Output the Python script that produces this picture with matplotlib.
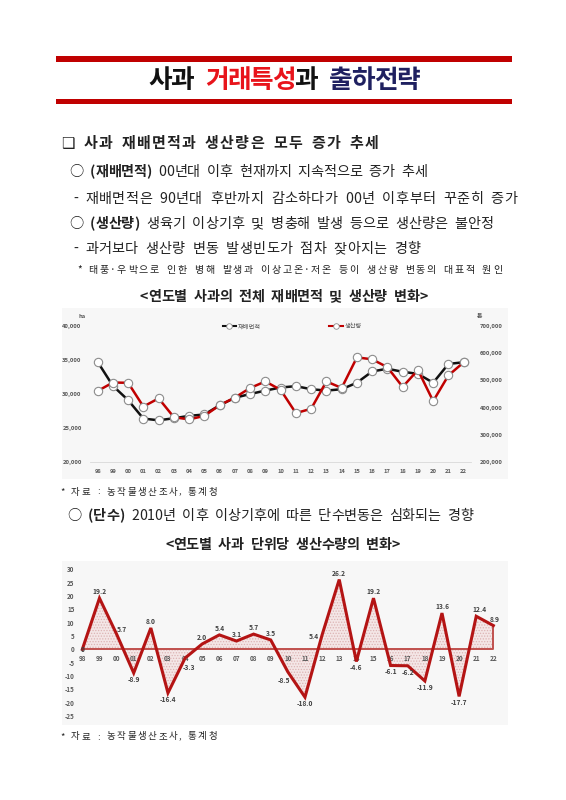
import matplotlib
matplotlib.use("Agg")
import matplotlib.pyplot as plt
from matplotlib.patches import Rectangle
from matplotlib.lines import Line2D
from matplotlib.ticker import FuncFormatter

plt.rcParams['font.family'] = ['Noto Sans CJK KR', 'DejaVu Sans']
plt.rcParams['axes.unicode_minus'] = False
plt.rcParams['hatch.linewidth'] = 0.6

# ---------------- data ----------------
years = ['98', '99', '00', '01', '02', '03', '04', '05', '06', '07', '08', '09', '10',
         '11', '12', '13', '14', '15', '16', '17', '18', '19', '20', '21', '22']
area_ha = [34700, 31200, 29100, 26400, 26150, 26450, 26800, 27000, 28350, 29450, 30000,
           30500, 30950, 31150, 30700, 30500, 30700, 31650, 33300, 33700, 33250, 32950,
           31650, 34400, 34650]
production_t = [461000, 492000, 491000, 404000, 434000, 365000, 357000, 370000, 409000,
                437000, 472000, 496000, 465000, 380000, 396000, 496000, 472000, 584000,
                577000, 548000, 476000, 538000, 424000, 518000, 566000]
yield_change = [0, 19.2, 5.7, -8.9, 8.0, -16.4, -3.3, 2.0, 5.4, 3.1, 5.7, 3.5, -8.5,
                -18.0, 5.4, 26.2, -4.6, 19.2, -6.1, -6.2, -11.9, 13.6, -17.7, 12.4, 8.9]
series_names = ['재배면적', '생산량']

W, H = 566, 800
fig = plt.figure(figsize=(W / 100, H / 100), dpi=100)
fig.patch.set_facecolor('white')


def fx(x):
    return x / W


def fy(y):
    return 1 - y / H


def rect(x0, y0, x1, y1, color, z=-5):
    fig.patches.append(Rectangle((fx(x0), fy(y1)), fx(x1) - fx(x0), fy(y0) - fy(y1),
                                 transform=fig.transFigure, facecolor=color,
                                 edgecolor='none', zorder=z))


renderer = fig.canvas.get_renderer()
_cache = {}


def measure(s, size, weight):
    key = (s, size, weight)
    if key not in _cache:
        t = fig.text(0, 0, s, fontsize=size, fontweight=weight)
        _cache[key] = t.get_window_extent(renderer=renderer).width
        t.remove()
    return _cache[key]


def advance(ch, size, weight):
    if ch == ' ':
        return 0.5 * size * 100 / 72
    return measure('가' + ch + '가', size, weight) - measure('가가', size, weight)


def track_text(x0, x1, y, parts, size):
    """Place characters one by one, stretching advances so the line spans x0..x1."""
    chars = []
    for s, c, w in parts:
        for ch in s:
            chars.append((ch, c, w))
    widths = [advance(ch, size, w) for ch, c, w in chars]
    last = measure(chars[-1][0], size, chars[-1][2])
    natural = sum(widths[:-1])
    scale = (x1 - x0 - last) / max(natural, 1)
    cx = x0
    for (ch, c, w), wd in zip(chars, widths):
        if ch != ' ':
            fig.text(fx(cx), fy(y), ch, fontsize=size, color=c, fontweight=w,
                     ha='left', va='center')
        cx += wd * scale


# ---------------- header ----------------
red_bar = '#c00000'
rect(56, 56, 512, 62, red_bar)
rect(56, 99, 512, 104, red_bar)
track_text(148, 420, 81, [('사과 ', '#111111', 'bold'), ('거래특성', '#e8141b', 'bold'),
                          ('과 ', '#111111', 'bold'), ('출하전략', '#1f2060', 'bold')], 18.5)

txt = '#222222'
track_text(61, 378, 143, [('❑ 사과 재배면적과 생산량은 모두 증가 추세', txt, 'bold')], 10.8)
track_text(69, 427, 172, [('○ ', txt, 'normal'), ('(재배면적)', txt, 'bold'),
                          (' 00년대 이후 현재까지 지속적으로 증가 추세', txt, 'normal')], 10.2)
track_text(73, 517, 199, [('- 재배면적은 90년대 후반까지 감소하다가 00년 이후부터 꾸준히 증가', txt, 'normal')], 10.2)
track_text(69, 493, 224, [('○ ', txt, 'normal'), ('(생산량)', txt, 'bold'),
                          (' 생육기 이상기후 및 병충해 발생 등으로 생산량은 불안정', txt, 'normal')], 10.2)
track_text(73, 420, 249, [('- 과거보다 생산량 변동 발생빈도가 점차 잦아지는 경향', txt, 'normal')], 10.2)
track_text(77, 502, 270, [('* 태풍·우박으로 인한 병해 발생과 이상고온·저온 등이 생산량 변동의 대표적 원인', txt, 'normal')], 7.2)
track_text(140, 428, 297, [('<연도별 사과의 전체 재배면적 및 생산량 변화>', txt, 'bold')], 10.2)

# ---------------- chart 1 ----------------
rect(62, 308, 508, 479, '#f7f7f7')
tick_col = '#595959'
ax1 = fig.add_axes([fx(90), fy(462.3), fx(471.3) - fx(90), (462.3 - 325.7) / H])
ax1.set_facecolor('none')
x = list(range(len(years)))
ax1.plot(x, area_ha, color='#111111', lw=1.8, marker='o', ms=6, mfc='white',
         mec='#8c8c8c', mew=0.8, zorder=3)
ax1.set_xlim(-0.5, len(years) - 0.5)
ax1.set_ylim(20000, 40000)
ax1.set_yticks(range(20000, 40001, 5000))
ax1.yaxis.set_major_formatter(FuncFormatter(lambda v, p: f'{int(v):,}'))
ax1.set_xticks(x)
ax1.set_xticklabels(years)
ax2 = ax1.twinx()
ax2.plot(x, production_t, color='#c00000', lw=1.8, marker='o', ms=6, mfc='white',
         mec='#8c8c8c', mew=0.8, zorder=3)
ax2.set_ylim(200000, 700000)
ax2.set_yticks(range(200000, 700001, 100000))
ax2.yaxis.set_major_formatter(FuncFormatter(lambda v, p: f'{int(v):,}'))
for a in (ax1, ax2):
    for s in a.spines.values():
        s.set_visible(False)
    a.tick_params(length=0, labelsize=4.2, labelcolor=tick_col)
    for lab in a.get_xticklabels() + a.get_yticklabels():
        lab.set_fontweight('bold')
ax1.spines['bottom'].set_visible(True)
ax1.spines['bottom'].set_color('#d9d9d9')
ax1.spines['bottom'].set_linewidth(0.6)
ax1.tick_params(axis='x', pad=5)
ax1.tick_params(axis='y', pad=6)
ax2.tick_params(axis='y', pad=6)
fig.text(fx(82), fy(317), 'ha', fontsize=4.2, color=tick_col, fontweight='bold', ha='center', va='center')
fig.text(fx(479), fy(316), '톤', fontsize=4.2, color=tick_col, fontweight='bold', ha='center', va='center')
handles = [Line2D([], [], color='#111111', lw=1.5, marker='o', ms=4, mfc='white', mec='#8c8c8c', mew=0.6),
           Line2D([], [], color='#c00000', lw=1.5, marker='o', ms=4, mfc='white', mec='#8c8c8c', mew=0.6)]
leg = ax1.legend(handles, series_names, loc='center', bbox_to_anchor=(0.53, 0.995), ncol=2,
                 frameon=False, fontsize=4.5, handlelength=2.2, handletextpad=0.2,
                 columnspacing=11, labelcolor=tick_col)

track_text(60, 217, 492, [('* 자료 : 농작물생산조사, 통계청', txt, 'normal')], 6.8)
track_text(67, 473, 516, [('○ ', txt, 'normal'), ('(단수)', txt, 'bold'),
                          (' 2010년 이후 이상기후에 따른 단수변동은 심화되는 경향', txt, 'normal')], 10.2)
track_text(165, 400, 545, [('<연도별 사과 단위당 생산수량의 변화>', txt, 'bold')], 10.2)

# ---------------- chart 2 ----------------
rect(62, 561, 508, 725, '#f7f7f7')
ax3 = fig.add_axes([fx(77.2), fy(723.8), fx(498.5) - fx(77.2), (723.8 - 564.1) / H])
ax3.set_facecolor('none')
ax3.set_xlim(-0.3, len(years) - 1 + 0.3)
ax3.set_ylim(-28, 32)
ax3.fill_between(x, yield_change, 0, facecolor='#f4e6e6', edgecolor='#dcb4b4',
                 hatch='......', linewidth=0, zorder=1)
ax3.plot([0, len(years) - 1, len(years) - 1], [0, 0, yield_change[-1]],
         color='#c0504d', lw=1.4, zorder=2)
ax3.plot(x, yield_change, color='#b41414', lw=2.2, zorder=3, solid_joinstyle='miter')
ax3.set_yticks(range(-25, 31, 5))
ax3.set_xticks([])
for s in ax3.spines.values():
    s.set_visible(False)
ax3.tick_params(length=0, labelsize=4.5, labelcolor=tick_col, pad=2)
for lab in ax3.get_yticklabels():
    lab.set_fontweight('bold')
for i, yr in enumerate(years):
    ax3.text(i, -3.3, yr, fontsize=4.6, color=tick_col, fontweight='bold',
             ha='center', va='center', zorder=2)

# label offsets (points) keyed by point index
special = {0: (0, 0, 'center'), 2: (4, 3, 'center'), 6: (3, -4, 'top'), 12: (-3, -4, 'top'),
           14: (-6, -1, 'center'), 23: (2, 2, 'bottom'), 24: (1, 2, 'bottom')}
for i, v in enumerate(yield_change):
    if i in special:
        dx, dy, va = special[i]
    elif v >= 0:
        dx, dy, va = 0, 2, 'bottom'
    else:
        dx, dy, va = 0, -2, 'top'
    lab = '0' if v == 0 else f'{v:.1f}'
    ax3.annotate(lab, (i, v), xytext=(dx, dy), textcoords='offset points', ha='center',
                 va=va, fontsize=4.8, color='#404040', fontweight='bold', zorder=4)

track_text(60, 217, 737, [('* 자료 : 농작물생산조사, 통계청', txt, 'normal')], 6.8)

fig.savefig('out.png', dpi=100, facecolor='white')
